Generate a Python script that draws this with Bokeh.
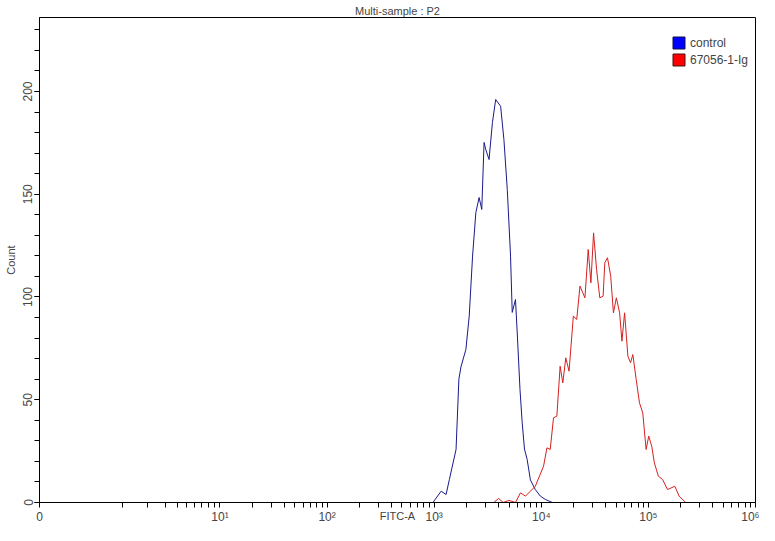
import math
from bokeh.plotting import figure
from bokeh.models import Range1d, FixedTicker, CustomJSTickFormatter, Legend, LegendItem
from bokeh.embed import file_html
from bokeh.resources import INLINE

# ---- data ----
control_fitc = [900, 973, 1161, 1291, 1386, 1600, 1700, 1778, 1977, 2123, 2282, 2449, 2626,
                2781, 2922, 3029, 3252, 3497, 3752, 4171, 4477, 4813, 5161, 5353, 5741,
                5995, 6324, 6627, 6966, 7375, 7913, 8795, 9798, 10900, 12650, 20000,
                60000, 200000]
control_count = [0, 0, 5.5, 3.9, 11.2, 25.8, 60, 66, 74.5, 90.7, 119.9, 141.1, 148.4,
                 142.6, 175.2, 171.8, 166.9, 184.9, 196.1, 192.8, 176.6, 152.3, 119.9, 92.5, 98.8,
                 80, 55, 39, 26, 21, 11, 6.3, 3.1, 1.5, 0, 0,
                 0, 0]

sample_fitc = [1000, 3600, 4000, 4400, 5000, 5740, 6392, 7117, 7913, 8795, 10500, 11290, 12110,
               13000, 13970, 14990, 15880, 16930, 18160, 19920, 21420, 22970, 25550,
               27420, 29050, 30770, 32820, 35180, 37760, 39170, 41490, 44490, 47140,
               50220, 53850, 56600, 59960, 64330, 68130, 71570, 76900, 82560, 88590,
               95200, 100700, 107400, 113700, 123900, 135600, 150900, 176600, 193600,
               223300, 350000]
sample_count = [0, 0, 2, 0, 1, 0, 4.7, 3.1, 5.5, 7.9, 17.7, 26.6, 25.8,
                41.2, 42.0, 66.3, 58.2, 70.4, 63.9, 90.7, 89.1, 105.3, 99.6,
                123.1, 106.9, 131.2, 113.4, 99.6, 100.4, 116.6, 119.1, 110.1, 92.3,
                99.6, 92.3, 78.5, 92.3, 71.2, 68.0, 72.0, 59.9, 48.5, 43.6,
                25.8, 32.3, 27.4, 19.3, 12.8, 11.2, 6.3, 7.9, 3.1,
                0, 0]

series_names = ["control", "67056-1-Ig"]
x_min, x_max = 0.2064, 1e6
y_min, y_max = 0, 236
x_major_ticks = [0.2064, 10, 100, 1e3, 1e4, 1e5, 1e6]
x_minor_ticks = [1.22, 2.12, 3.08, 4.03, 4.88, 5.83, 6.72, 7.74, 8.93] + \
    [m * 10 ** k for k in range(1, 6) for m in range(2, 10)]
y_major_ticks = [0, 50, 100, 150, 200]
y_minor_ticks = list(range(0, 240, 10))

FONT = "Liberation Sans"
W, H = 759, 525
BL, BR, BT, BB = 39, 4, 17, 23
FW, FH = W - BL - BR, H - BT - BB

p = figure(width=W, height=H, x_axis_type="log",
           x_range=Range1d(x_min, x_max), y_range=Range1d(y_min, y_max),
           output_backend="svg", toolbar_location=None,
           min_border_left=BL, min_border_right=BR, min_border_top=BT, min_border_bottom=BB)

p.title.text = "Multi-sample : P2"
p.title.align = "center"
p.title.offset = -9
p.title.text_font = FONT
p.title.text_font_size = "11px"
p.title.text_font_style = "normal"
p.title.standoff = 1

p.grid.visible = False
p.outline_line_color = "black"
p.outline_line_width = 1

p.line(control_fitc, control_count, line_color="#1a1a8a", line_width=1)
p.line(sample_fitc, sample_count, line_color="#d42020", line_width=1)

# legend swatches: area glyphs with no visible extent, used only for the legend keys
nan = float("nan")
sw_c = p.quad(left=[nan], right=[nan], top=[nan], bottom=[nan],
              fill_color="#0000ff", line_color="#10104a")
sw_s = p.quad(left=[nan], right=[nan], top=[nan], bottom=[nan],
              fill_color="#ff0000", line_color="#4a1010")

legend = Legend(items=[LegendItem(label=series_names[0], renderers=[sw_c]),
                       LegendItem(label=series_names[1], renderers=[sw_s])],
                location=(FW - 84, FH - 18 - 32), margin=0, padding=0, spacing=2,
                glyph_width=15, glyph_height=15, label_height=15, label_standoff=4,
                label_text_font=FONT, label_text_font_size="12px",
                border_line_color=None, background_fill_alpha=0)
p.add_layout(legend)

xa = p.xaxis[0]
xa.ticker = FixedTicker(ticks=x_major_ticks, minor_ticks=x_minor_ticks)
xa.formatter = CustomJSTickFormatter(code="""
    if (tick < 1) { return "0"; }
    const sup = ["\u2070","\u00b9","\u00b2","\u00b3","\u2074","\u2075","\u2076","\u2077","\u2078","\u2079"];
    const e = Math.round(Math.log10(tick));
    return "10" + sup[e];
""")
xa.axis_label = "FITC-A"
xa.axis_label_standoff = -17

ya = p.yaxis[0]
ya.ticker = FixedTicker(ticks=y_major_ticks, minor_ticks=y_minor_ticks)
ya.major_label_orientation = "vertical"
ya.axis_label = "Count"
ya.axis_label_standoff = 4

for ax in (xa, ya):
    ax.axis_line_color = "black"
    ax.major_tick_line_color = "black"
    ax.minor_tick_line_color = "black"
    ax.major_tick_in = 0
    ax.minor_tick_in = 0
    ax.major_tick_out = 5
    ax.minor_tick_out = 5
    ax.major_label_text_font = FONT
    ax.major_label_text_font_size = "12px"
    ax.major_label_standoff = 2
    ax.axis_label_text_font = FONT
    ax.axis_label_text_font_size = "11px"
    ax.axis_label_text_font_style = "normal"

open("out.html", "w").write(file_html(p, INLINE))
